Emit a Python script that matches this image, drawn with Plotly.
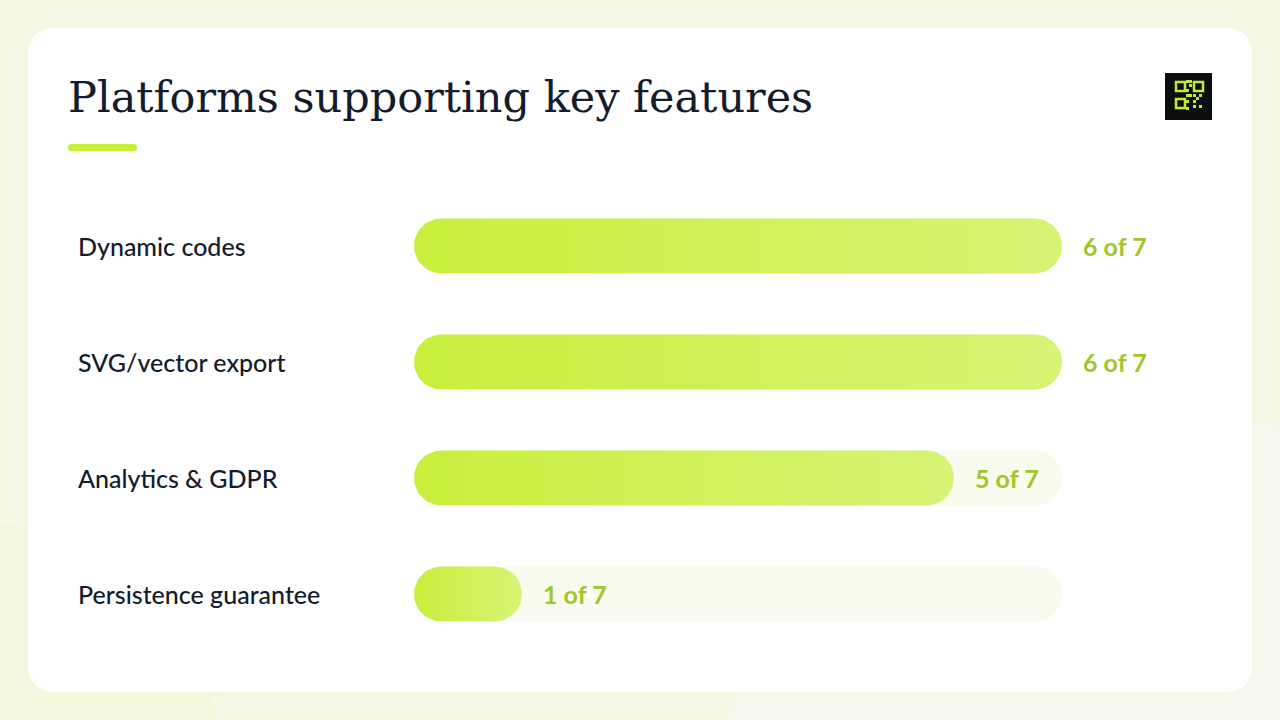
import math
import plotly.graph_objects as go

# ---- data ----
features = ["Dynamic codes", "SVG/vector export", "Analytics & GDPR", "Persistence guarantee"]
supported = [6, 6, 5, 1]
total_platforms = 7
value_labels = [f"{v} of {total_platforms}" for v in supported]
title = "Platforms supporting key features"

# ---- styling ----
W, H = 1280, 720
BG = "#f4f9e3"
CARD = "#ffffff"
TRACK = "#f8fbed"
GRAD_L = "#c7ef3b"
GRAD_R = "#d6f475"
TEXT = "#131b2c"
VALUE = "#a3c52c"

# pixel layout of plot area (axes span the whole figure)
X0_PX, PX_PER_UNIT = 414, 108.0
Y0_PX, ROW_PX = 246, 116.0
BAR_PX = 55.0

track_max = max(supported)
x_range = [-X0_PX / PX_PER_UNIT, (W - X0_PX) / PX_PER_UNIT]
y_range = [(H - Y0_PX) / ROW_PX, -Y0_PX / ROW_PX]

rx = (BAR_PX / 2) / PX_PER_UNIT
ry = (BAR_PX / 2) / ROW_PX


def pill(x_end, yc, n=24):
    xs, ys = [], []
    for k in range(n + 1):
        a = -math.pi / 2 + math.pi * k / n
        xs.append(x_end - rx + rx * math.cos(a))
        ys.append(yc + ry * math.sin(a))
    for k in range(n + 1):
        a = math.pi / 2 + math.pi * k / n
        xs.append(rx + rx * math.cos(a))
        ys.append(yc + ry * math.sin(a))
    xs.append(xs[0])
    ys.append(ys[0])
    return xs, ys


fig = go.Figure()

# tracks (full length = max value)
for i in range(len(features)):
    xs, ys = pill(track_max, i)
    fig.add_trace(go.Scatter(
        x=xs, y=ys, mode="lines", fill="toself", line=dict(width=0, color=TRACK),
        fillcolor=TRACK, hoverinfo="skip", showlegend=False,
    ))

# filled gradient bars
for i, v in enumerate(supported):
    xs, ys = pill(v, i)
    fig.add_trace(go.Scatter(
        x=xs, y=ys, mode="lines", fill="toself", line=dict(width=0, color=GRAD_L),
        fillcolor=GRAD_L,
        fillgradient=dict(type="horizontal", colorscale=[[0, GRAD_L], [1, GRAD_R]]),
        hoverinfo="skip", showlegend=False,
    ))

# value labels
for i, (v, t) in enumerate(zip(supported, value_labels)):
    fig.add_annotation(x=v, y=i, xref="x", yref="y", text=t, showarrow=False,
                       xanchor="left", yanchor="middle", xshift=19,
                       font=dict(family="Lato", size=25, color=VALUE, weight=700))

# category labels
for i, f in enumerate(features):
    fig.add_annotation(x=76 / W, y=i, xref="paper", yref="y", text=f, showarrow=False,
                       xanchor="left", yanchor="middle",
                       font=dict(family="Lato", size=25, color=TEXT, weight=500))

# title
fig.add_annotation(x=66 / W, y=1 - 97 / H, xref="paper", yref="paper", text=title,
                   showarrow=False, xanchor="left", yanchor="middle",
                   font=dict(family="DejaVu Serif", size=43, color=TEXT))


def px(x):
    return x / W


def py(y):
    return 1 - y / H


def rrect(x0, y0, x1, y1, r):
    return (f"M {px(x0 + r)} {py(y0)} L {px(x1 - r)} {py(y0)} "
            f"Q {px(x1)} {py(y0)} {px(x1)} {py(y0 + r)} L {px(x1)} {py(y1 - r)} "
            f"Q {px(x1)} {py(y1)} {px(x1 - r)} {py(y1)} L {px(x0 + r)} {py(y1)} "
            f"Q {px(x0)} {py(y1)} {px(x0)} {py(y1 - r)} L {px(x0)} {py(y0 + r)} "
            f"Q {px(x0)} {py(y0)} {px(x0 + r)} {py(y0)} Z")


shapes = [
    # soft background blobs
    dict(type="circle", xref="paper", yref="paper", x0=px(-300), x1=px(220), y0=py(1000), y1=py(520),
         fillcolor="#f1f8dc", line=dict(width=0), layer="below"),
    dict(type="circle", xref="paper", yref="paper", x0=px(700), x1=px(1700), y0=py(1300), y1=py(420),
         fillcolor="#f6f8ee", line=dict(width=0), layer="below"),
    # card
    dict(type="path", xref="paper", yref="paper", path=rrect(28, 28, 1252, 692, 28),
         fillcolor=CARD, line=dict(width=0), layer="below"),
    # accent underline
    dict(type="path", xref="paper", yref="paper", path=rrect(68, 144, 137, 151, 3.5),
         fillcolor="#c6ef35", line=dict(width=0)),
    # QR icon background
    dict(type="rect", xref="paper", yref="paper", x0=px(1165), x1=px(1212), y0=py(120), y1=py(73),
         fillcolor="#0b0f0c", line=dict(width=0)),
]

# QR-like glyph
LIME = "#c3ea3a"
rings = [(1175, 81), (1193, 81), (1175, 98)]
for (x, y) in rings:
    shapes.append(dict(type="rect", xref="paper", yref="paper", x0=px(x + 1), x1=px(x + 10),
                       y0=py(y + 10), y1=py(y + 1), fillcolor="rgba(0,0,0,0)",
                       line=dict(color=LIME, width=2.5)))
dots = [(1186, 80), (1189, 80), (1189, 84), (1186, 89), (1186, 94), (1189, 94),
        (1193, 94), (1199, 94), (1186, 100), (1193, 100), (1196, 97), (1193, 105),
        (1199, 105), (1186, 107)]
for (x, y) in dots:
    shapes.append(dict(type="rect", xref="paper", yref="paper", x0=px(x), x1=px(x + 3),
                       y0=py(y + 3), y1=py(y), fillcolor=LIME, line=dict(width=0)))

fig.update_layout(
    width=W, height=H, autosize=False,
    margin=dict(l=0, r=0, t=0, b=0),
    paper_bgcolor=BG, plot_bgcolor="rgba(0,0,0,0)",
    shapes=shapes, showlegend=False,
    xaxis=dict(range=x_range, visible=False, fixedrange=True),
    yaxis=dict(range=y_range, visible=False, fixedrange=True),
    hovermode=False,
)

fig.write_html("out.html", config={"displayModeBar": False},
               post_script="document.body.style.margin='0';document.body.style.background='" + BG + "';")
